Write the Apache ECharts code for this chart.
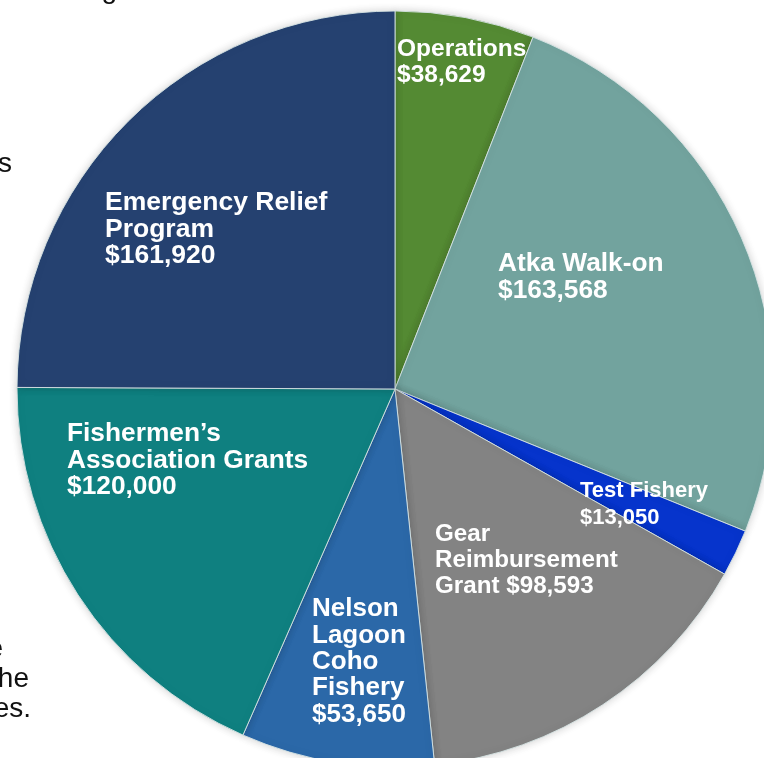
<!DOCTYPE html>
<html>
<head>
<meta charset="utf-8">
<script src="https://cdn.jsdelivr.net/npm/echarts@6/dist/echarts.min.js"></script>
<style>
html,body{margin:0;padding:0;background:#fff;}
#c{width:764px;height:758px;}
</style>
</head>
<body>
<div id="c"></div>
<script>
// ---- data ----
var categories = ['Operations', 'Atka Walk-on', 'Test Fishery', 'Gear\nReimbursement\nGrant', 'Nelson\nLagoon\nCoho\nFishery', 'Fishermen\u2019s\nAssociation Grants', 'Emergency Relief\nProgram'];
var values = [38629, 163568, 13050, 98593, 53650, 120000, 161920];
// how the value joins the name in the label ('\n' new line, ' ' same line)
var valueJoin = ['\n', '\n', '\n', ' ', '\n', '\n', '\n'];

// ---- styles / layout ----
var colors = ['#548a33', '#72a39e', '#0634cc', '#838383', '#2b68a8', '#0f8080', '#254170'];
var labelFontSize = [24.5, 26.3, 22, 24.2, 26, 26.3, 26.5];
var labelPos = [[397, 36], [498, 251], [580, 478], [435, 521], [312, 596], [67, 421], [105, 190]];

function fmtMoney(v) {
  return '$' + v.toString().replace(/\B(?=(\d{3})+(?!\d))/g, ',');
}

var data = categories.map(function (c, i) {
  return {
    name: c,
    value: values[i],
    itemStyle: { color: colors[i] },
    label: { fontSize: labelFontSize[i] }
  };
});

var textFont = '28px "Liberation Sans", Arial';
var chart = echarts.init(document.getElementById('c'), null, { renderer: 'canvas' });
chart.setOption({
  animation: false,
  backgroundColor: '#ffffff',
  graphic: [
    { type: 'text', x: 12, y: 178, style: { text: 's', fill: '#111', font: textFont, align: 'right', verticalAlign: 'bottom' } },
    { type: 'text', x: 3, y: 663, style: { text: 'e', fill: '#111', font: textFont, align: 'right', verticalAlign: 'bottom' } },
    { type: 'text', x: 29, y: 693, style: { text: 'he', fill: '#111', font: textFont, align: 'right', verticalAlign: 'bottom' } },
    { type: 'text', x: 31, y: 723, style: { text: 'es.', fill: '#111', font: textFont, align: 'right', verticalAlign: 'bottom' } },
    { type: 'text', x: 117, y: 4, style: { text: 'g', fill: '#111', font: textFont, align: 'right', verticalAlign: 'bottom' } }
  ],
  series: [{
    type: 'pie',
    center: [395, 389],
    radius: 378,
    startAngle: 90,
    clockwise: true,
    avoidLabelOverlap: false,
    silent: true,
    itemStyle: {
      borderColor: 'rgba(215,228,228,0.9)',
      borderWidth: 1,
      shadowBlur: 8,
      shadowColor: 'rgba(0,0,0,0.18)'
    },
    label: {
      show: true,
      position: 'inside',
      color: '#ffffff',
      fontWeight: 'bold',
      fontFamily: '"Liberation Sans", Arial, sans-serif',
      lineHeight: 26.3,
      align: 'left',
      formatter: function (p) {
        return p.name + valueJoin[p.dataIndex] + fmtMoney(p.value);
      }
    },
    labelLine: { show: false },
    labelLayout: function (p) {
      var pos = labelPos[p.dataIndex];
      return { x: pos[0], y: pos[1], align: 'left', verticalAlign: 'top' };
    },
    data: data
  }]
});
</script>
</body>
</html>
